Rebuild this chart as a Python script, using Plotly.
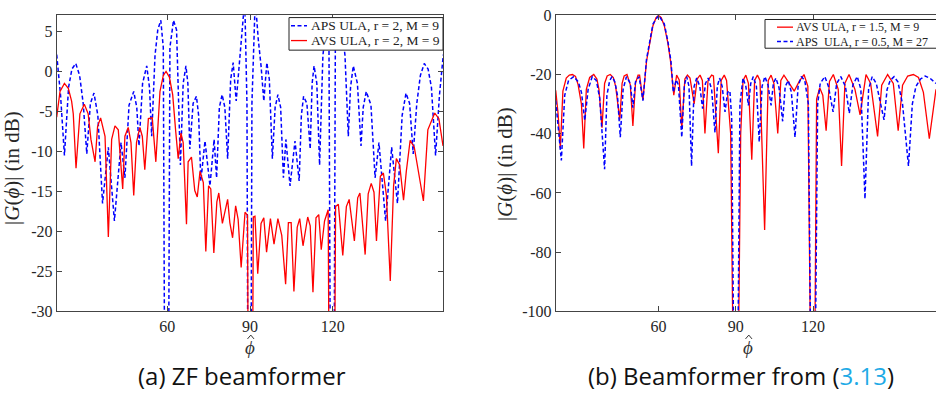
import plotly.graph_objects as go

# ---------------- Panel (a): ZF beamformer ----------------
aps_a_x = [20.0, 21.4, 22.8, 24.3, 25.5, 26.9, 28.3, 29.6, 30.9, 32.2, 33.5, 34.9, 36.6, 38.7, 40.9, 43.3,
           44.7, 46.2, 47.9, 49.0, 49.8, 51.1, 52.6, 53.6, 54.4, 55.6, 56.6, 57.7, 58.6, 59.8, 61.0, 62.3,
           63.4, 64.8, 65.8, 66.8, 67.5, 68.2, 69.4, 70.6, 71.4, 72.2, 73.7, 75.5, 77.0, 77.9, 78.9, 79.9,
           80.9, 81.9, 83.0, 83.9, 85.0, 86.0, 87.0, 88.1, 88.9, 89.8, 90.7, 91.9, 93.0, 94.0, 95.0, 96.1,
           97.0, 98.1, 99.1, 100.1, 101.1, 102.1, 103.0, 104.5, 106.3, 107.8, 108.6, 109.4, 110.6, 111.8,
           112.5, 113.2, 114.2, 115.2, 116.4, 117.8, 118.6, 119.8, 120.9, 122.3, 123.4, 124.4, 125.6, 126.4,
           127.4, 128.9, 130.2, 131.0, 132.1, 133.8, 135.3, 136.7, 139.1, 141.3, 143.4, 145.1, 146.5, 147.8,
           149.1, 150.4, 151.7, 153.1, 154.5, 155.7, 157.2, 158.6, 160.0]
aps_a_y = [2.1, -3.0, -10.5, -2.0, 0.3, 1.0, -0.5, -4.0, -10.3, -4.0, -2.7, -5.5, -16.5, -9.5, -18.7, -8.9,
           -13.3, -4.2, -2.5, -4.5, -9.3, -1.5, 0.7, -2.0, -8.1, 2.0, 5.2, 6.4, 3.0, -100.0, 3.0, 6.4,
           5.2, -11.7, -1.5, 0.7, -1.5, -9.7, -4.0, -3.1, -5.5, -13.7, -8.7, -14.3, -8.5, -13.3, -4.5, -2.9,
           -4.5, -10.9, -1.0, 1.1, -3.7, 0.7, 4.0, 9.0, -4.0, -100.0, -4.0, 9.0, 4.0, 0.7, -3.7, 1.1,
           -1.0, -10.9, -4.5, -2.9, -4.5, -13.3, -8.5, -14.3, -8.7, -13.7, -5.5, -3.1, -4.0, -9.7,
           -1.5, 0.7, -1.5, -11.7, 2.0, 6.4, 3.0, -100.0, 3.0, 6.4, 5.2, 2.0, -8.1, -2.0,
           0.7, -1.5, -9.3, -4.5, -2.5, -4.2, -13.3, -8.9, -18.7, -9.5, -16.5, -5.5, -2.7, -4.0,
           -10.3, -4.0, -0.5, 1.0, 0.3, -2.0, -10.5, -3.0, 2.1]

avs_a_x = [20.0, 21.2, 22.8, 24.2, 25.4, 26.0, 27.0, 28.4, 30.0, 31.4, 32.4, 33.9, 34.8, 35.9, 37.5, 38.7,
           39.9, 41.1, 42.3, 42.9, 43.9, 44.7, 45.9, 46.9, 47.9, 48.9, 50.1, 51.0, 51.9, 53.2, 54.6, 55.9,
           57.4, 58.6, 59.6, 60.8, 62.0, 63.1, 64.0, 65.0, 65.8, 67.0, 67.6, 68.8, 70.0, 70.9, 71.9, 73.1,
           74.0, 75.0, 75.8, 76.9, 78.0, 78.7, 80.0, 81.9, 82.7, 83.7, 84.8, 85.7, 86.8, 88.2, 89.1, 90.1,
           91.2, 91.8, 92.8, 94.0, 95.0, 96.0, 97.4, 98.7, 100.1, 101.5, 102.9, 103.9, 104.9, 105.9, 107.1,
           108.0, 109.2, 110.9, 111.8, 112.8, 113.9, 114.9, 115.8, 117.0, 118.3, 119.6, 121.0, 122.0, 123.6,
           124.9, 125.9, 127.8, 129.0, 129.8, 131.7, 132.8, 133.9, 134.9, 135.8, 137.2, 138.3, 139.4, 140.8,
           142.0, 143.0, 144.2, 145.6, 146.6, 148.0, 149.5, 152.8, 154.4, 156.9, 158.4, 159.9]
avs_a_y = [-5.7, -2.5, -1.5, -2.1, -3.7, -5.3, -12.1, -5.3, -4.1, -5.3, -8.5, -11.3, -6.9, -5.8, -8.1, -20.7,
           -8.5, -6.8, -7.3, -10.1, -14.7, -8.1, -7.0, -8.9, -15.5, -8.9, -7.0, -8.1, -12.3, -5.9, -5.8, -11.3,
           -2.5, -0.5, 0.0, -0.7, -2.9, -7.5, -10.9, -7.7, -8.9, -19.1, -11.3, -10.7, -14.9, -15.7, -12.5, -13.9,
           -22.5, -14.3, -14.7, -22.7, -16.3, -15.2, -19.0, -16.0, -18.9, -20.8, -16.8, -18.5, -24.5, -17.6, -18.0, -100.0,
           -18.2, -18.1, -25.3, -19.0, -18.3, -22.6, -18.4, -21.6, -18.4, -20.5, -26.6, -18.9, -18.9, -27.5, -19.5,
           -18.4, -21.8, -18.2, -19.3, -27.6, -18.3, -17.9, -22.3, -18.7, -17.3, -100.0, -16.9, -16.6, -23.0,
           -16.9, -16.0, -21.2, -15.8, -15.2, -22.9, -15.3, -14.0, -15.1, -21.2, -13.1, -12.7, -15.5, -26.2,
           -14.3, -10.9, -11.7, -16.1, -12.5, -8.6, -9.5, -16.2, -7.3, -5.2, -5.9, -9.3]

# ---------------- Panel (b): Beamformer from (3.13) ----------------
avs_b_x = [20.0, 20.9, 21.8, 22.8, 24.1, 25.3, 26.5, 27.7, 28.7, 30.0, 30.9, 31.9, 33.2, 34.8, 36.0, 36.8,
           38.0, 39.0, 40.0, 41.2, 42.4, 43.3, 44.9, 45.8, 46.6, 47.7, 49.0, 50.0, 51.0, 52.0, 52.6, 53.9,
           55.3, 56.5, 57.8, 59.0, 60.0, 61.0, 62.2, 63.6, 64.6, 65.9, 67.0, 68.0, 69.0, 70.2, 71.2, 72.2,
           73.8, 75.0, 76.1, 77.0, 78.0, 79.2, 80.6, 81.3, 83.2, 84.3, 85.5, 86.4, 88.0, 90.0, 91.9, 92.8,
           93.9, 94.9, 96.2, 97.3, 98.4, 99.4, 101.2, 102.6, 103.7, 104.8, 106.3, 107.5, 108.7, 110.4, 112.7,
           114.7, 116.5, 118.0, 120.0, 121.4, 122.6, 123.8, 125.1, 126.4, 127.9, 129.8, 131.1, 132.4, 134.0,
           136.3, 138.3, 140.6, 142.4, 145.1, 146.7, 149.0, 151.2, 153.1, 154.8, 156.8, 159.0, 161.0, 162.9,
           165.2, 167.8]
avs_b_y = [-25.3, -33.0, -45.0, -25.6, -21.2, -20.2, -20.0, -20.6, -23.4, -30.0, -45.0, -25.0, -21.0, -20.0, -21.5, -25.0,
           -38.0, -23.0, -20.5, -20.0, -21.0, -24.0, -35.3, -23.0, -20.5, -20.0, -23.5, -37.4, -23.0, -20.2, -20.2, -28.6,
           -15.5, -9.4, -3.5, -0.8, 0.0, -0.8, -3.5, -9.4, -15.3, -27.0, -20.2, -21.8, -38.5, -21.5, -20.2, -21.2,
           -29.9, -21.5, -20.2, -22.0, -39.9, -22.0, -20.2, -20.5, -46.6, -22.0, -20.2, -22.0, -40.0, -200.0, -40.0, -22.0,
           -20.2, -23.0, -48.8, -22.0, -20.2, -22.0, -72.5, -22.0, -20.2, -23.0, -39.9, -22.0, -20.2, -22.5, -25.6,
           -22.2, -20.0, -24.0, -200.0, -28.3, -24.5, -27.0, -39.0, -22.3, -20.0, -25.0, -50.9, -22.9, -20.0,
           -25.0, -33.6, -20.0, -23.0, -40.9, -23.6, -20.0, -23.0, -39.0, -23.6, -20.5, -20.0, -21.0, -26.0,
           -41.7, -25.0]

aps_b_x = [20.0, 21.0, 22.2, 23.5, 25.0, 27.0, 28.8, 30.0, 31.3, 32.6, 34.2, 35.8, 37.1, 39.0, 39.9, 41.0,
           41.9, 43.0, 44.0, 45.1, 46.2, 47.5, 49.0, 50.0, 51.0, 52.4, 53.9, 55.3, 56.5, 57.8, 60.0, 62.2,
           63.6, 64.8, 65.7, 66.8, 67.7, 69.0, 70.0, 70.9, 71.8, 72.8, 73.8, 74.8, 76.0, 77.1, 78.2, 79.3,
           80.6, 81.9, 82.8, 83.7, 84.7, 85.8, 86.8, 87.7, 88.4, 90.0, 91.6, 92.8, 93.9, 94.9, 95.8, 96.8,
           98.0, 99.1, 100.2, 101.3, 102.5, 103.7, 104.6, 105.6, 106.8, 108.2, 109.2, 110.4, 111.6, 113.0,
           114.2, 115.5, 116.8, 118.2, 120.0, 121.8, 122.8, 124.6, 126.0, 127.8, 129.2, 130.8, 132.6, 134.1,
           135.5, 137.2, 138.6, 140.2, 141.6, 143.0, 144.6, 145.8, 147.6, 148.8, 150.0, 151.5, 153.0, 154.8,
           157.1, 158.6, 160.0, 161.8, 163.6, 165.4, 167.8]
aps_b_y = [-28.8, -38.0, -49.0, -27.0, -22.0, -20.7, -22.5, -26.0, -35.5, -25.0, -20.7, -22.0, -28.0, -52.0, -27.0, -22.0,
           -20.7, -22.5, -27.0, -41.2, -25.0, -20.7, -23.0, -31.2, -22.5, -20.7, -28.8, -14.8, -8.8, -2.9, 0.0, -2.9,
           -8.8, -15.5, -26.0, -21.8, -23.5, -41.2, -23.5, -20.7, -24.0, -50.9, -24.0, -21.2, -24.0, -31.5, -23.0, -21.2,
           -25.0, -39.6, -24.0, -21.2, -24.0, -32.6, -26.0, -25.5, -35.0, -200.0, -30.0, -21.2, -24.0, -30.4, -23.0, -20.7,
           -24.0, -42.8, -24.0, -20.7, -23.5, -30.4, -23.0, -21.2, -24.5, -35.8, -24.0, -22.0, -26.0, -41.2,
           -24.0, -20.7, -22.0, -30.0, -200.0, -30.0, -23.0, -20.7, -24.0, -32.6, -23.0, -20.7, -24.0, -33.1,
           -23.5, -20.7, -25.0, -62.0, -25.0, -20.7, -23.0, -28.0, -35.3, -25.0, -22.0, -20.7, -22.5, -30.0,
           -50.9, -30.0, -24.0, -21.5, -20.5, -21.2, -23.0]

x_ticks = [60, 90, 120]
x_ticklabels = ["60", "90", "120"]
y_ticks_a = [-30, -25, -20, -15, -10, -5, 0, 5]
y_ticklabels_a = ["-30", "-25", "-20", "-15", "-10", "-5", "0", "5"]
y_ticks_b = [-100, -80, -60, -40, -20, 0]
y_ticklabels_b = ["-100", "-80", "-60", "-40", "-20", "0"]

names_a = ["APS ULA, r = 2, M = 9", "AVS ULA, r = 2, M = 9"]
names_b = ["AVS ULA, r = 1.5, M = 9", "APS\u00a0 ULA, r = 0.5, M = 27"]

BLUE = "rgb(0,0,255)"
RED = "rgb(255,0,0)"
DASH = "4px,2.5px"
SERIF = "Liberation Serif, Times New Roman, serif"
AXC = "#444444"
TXT = "#262626"

fig = go.Figure()
fig.add_trace(go.Scatter(x=aps_a_x, y=aps_a_y, mode="lines", name=names_a[0], showlegend=False,
                         line=dict(color=BLUE, width=1.5, dash=DASH), xaxis="x", yaxis="y"))
fig.add_trace(go.Scatter(x=avs_a_x, y=avs_a_y, mode="lines", name=names_a[1], showlegend=False,
                         line=dict(color=RED, width=1.3), xaxis="x", yaxis="y"))
fig.add_trace(go.Scatter(x=avs_b_x, y=avs_b_y, mode="lines", name=names_b[0], showlegend=False,
                         line=dict(color=RED, width=1.3), xaxis="x2", yaxis="y2"))
fig.add_trace(go.Scatter(x=aps_b_x, y=aps_b_y, mode="lines", name=names_b[1], showlegend=False,
                         line=dict(color=BLUE, width=1.5, dash=DASH), xaxis="x2", yaxis="y2"))

W, H = 936, 403
ydom = [1 - 316.7 / H, 1 - 7.5 / H]
axis_common = dict(showgrid=False, zeroline=False, showline=True, linecolor=AXC, linewidth=1,
                   ticks="inside", ticklen=5, tickcolor=AXC, ticklabeloverflow="allow",
                   tickfont=dict(family=SERIF, size=16, color=TXT))

fig.update_layout(
    width=W, height=H, autosize=False,
    margin=dict(l=0, r=0, t=0, b=0),
    paper_bgcolor="white", plot_bgcolor="white",
    showlegend=False,
    xaxis=dict(domain=[56.7 / W, 443.3 / W], range=[20, 160], tickvals=x_ticks, ticktext=x_ticklabels,
               anchor="y", mirror="allticks", **axis_common),
    yaxis=dict(domain=ydom, range=[-30, 7.04], tickvals=y_ticks_a, ticktext=y_ticklabels_a,
               anchor="x", mirror="allticks", **axis_common),
    xaxis2=dict(domain=[555.7 / W, 1.0], range=[20, 167.8], tickvals=x_ticks, ticktext=x_ticklabels,
                anchor="y2", mirror="allticks", **axis_common),
    yaxis2=dict(domain=ydom, range=[-100, 0.05], tickvals=y_ticks_b, ticktext=y_ticklabels_b,
                anchor="x2", mirror=False, **axis_common),
)


def px(x):
    return x / W


def py(y):
    return 1 - y / H


# ---- hand-drawn legends (boxes, samples, labels) ----
legend_specs = [
    dict(box=(289, 443, 10, 44), sx=(291, 307), tx=309, rows=(18.5, 34), fs=13.5,
         names=names_a, styles=[(BLUE, DASH, 1.5), (RED, "solid", 1.3)]),
    dict(box=(765, 940, 12, 42), sx=(777, 793), tx=794, rows=(20, 35), fs=12,
         names=names_b, styles=[(RED, "solid", 1.3), (BLUE, DASH, 1.5)]),
]
for spec in legend_specs:
    x0, x1, y0, y1 = spec["box"]
    fig.add_shape(type="rect", xref="paper", yref="paper", x0=px(x0), x1=px(x1), y0=py(y1), y1=py(y0),
                  line=dict(color="#222", width=1), fillcolor="white", layer="above")
    for ry, name, (col, dsh, lw) in zip(spec["rows"], spec["names"], spec["styles"]):
        fig.add_shape(type="line", xref="paper", yref="paper", x0=px(spec["sx"][0]), x1=px(spec["sx"][1]),
                      y0=py(ry), y1=py(ry), line=dict(color=col, width=lw, dash=dsh), layer="above")
        fig.add_annotation(xref="paper", yref="paper", x=px(spec["tx"]), y=py(ry), text=name,
                           showarrow=False, xanchor="left", yanchor="middle",
                           font=dict(family=SERIF, size=spec["fs"], color="#222"))

ylab = "|<i>G</i>(<i>ϕ</i>)| (in dB)"
for xc, yc in [(12, 167), (505, 163)]:
    fig.add_annotation(xref="paper", yref="paper", x=px(xc), y=py(yc), text=ylab, textangle=-90,
                       showarrow=False, xanchor="center", yanchor="middle",
                       font=dict(family=SERIF, size=21, color=TXT))

# x-axis label: italic phi with a hat accent drawn above it
for xc in [250, 748]:
    fig.add_annotation(xref="paper", yref="paper", x=px(xc), y=py(354), text="<i>ϕ</i>",
                       showarrow=False, xanchor="center", yanchor="middle",
                       font=dict(family=SERIF, size=19, color="#333"))
    hat = "M {:.5f},{:.5f} L {:.5f},{:.5f} L {:.5f},{:.5f}".format(
        px(xc - 2.5), py(345.5), px(xc + 0.8), py(341.5), px(xc + 4.0), py(345.5))
    fig.add_shape(type="path", xref="paper", yref="paper", path=hat,
                  line=dict(color="#333", width=1))

fig.add_annotation(xref="paper", yref="paper", showarrow=False, x=px(242), y=py(384),
                   xanchor="center", yanchor="middle", text="(a) ZF beamformer",
                   font=dict(family="Open Sans", size=24, color="#111"))
fig.add_annotation(xref="paper", yref="paper", showarrow=False, x=px(741), y=py(384),
                   xanchor="center", yanchor="middle",
                   text="(b) Beamformer from (<span style='color:#1EAAE6'>3.13</span>)",
                   font=dict(family="Open Sans", size=24, color="#111"))

fig.write_html("out.html")
